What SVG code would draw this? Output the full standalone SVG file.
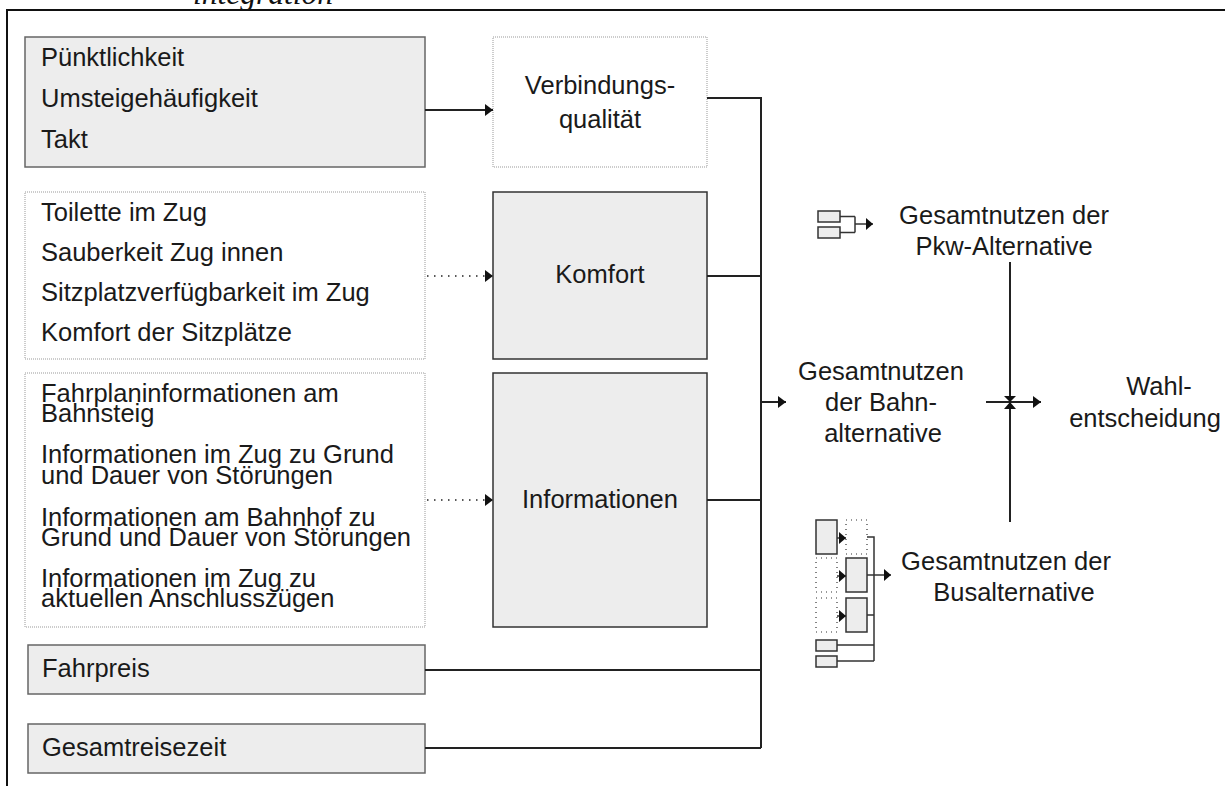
<svg xmlns="http://www.w3.org/2000/svg" width="1225" height="786" viewBox="0 0 1225 786">
<style>
 .t{font-family:"Liberation Sans",Arial,sans-serif;font-size:25.5px;fill:#1a1a1a}
 .c{text-anchor:middle}
 .sh{fill:#ededed;stroke:#666;stroke-width:1.5}
 .dk{fill:#ededed;stroke:#333;stroke-width:1.5}
 .dt{fill:#fff;stroke:#999;stroke-width:1;stroke-dasharray:1 1}
 .ln{fill:none;stroke:#222;stroke-width:2}
 .dl{fill:none;stroke:#222;stroke-width:1.5;stroke-dasharray:1.5 5.5}
 .ic{fill:#ededed;stroke:#333;stroke-width:1.5}
 .icd{fill:#fff;stroke:#333;stroke-width:1.2;stroke-dasharray:1 4}
 .il{fill:none;stroke:#333;stroke-width:1.5}
</style>
<defs>
 <marker id="ah" markerUnits="userSpaceOnUse" viewBox="0 0 10 14" markerWidth="10" markerHeight="14" refX="9" refY="7" orient="auto"><path d="M1,1 L9,7 L1,13 Z" fill="#111"/></marker>
 <marker id="ahs" markerUnits="userSpaceOnUse" viewBox="0 0 8 12" markerWidth="8" markerHeight="12" refX="7" refY="6" orient="auto"><path d="M0,0 L7,6 L0,12 Z" fill="#111"/></marker>
</defs>

<text x="193" y="4" style="font-family:'Liberation Serif','Times New Roman',serif;font-style:italic;font-size:31.5px;fill:#111">integration</text>
<rect x="7" y="10" width="1230" height="800" fill="none" stroke="#111" stroke-width="2"/>

<g id="n-verbindung-kriterien">
 <rect class="sh" x="25" y="37" width="400" height="130"/>
 <text class="t" x="41" y="66">Pünktlichkeit</text>
 <text class="t" x="41" y="107">Umsteigehäufigkeit</text>
 <text class="t" x="41" y="148">Takt</text>
</g>
<g id="n-komfort-kriterien">
 <rect class="dt" x="25" y="192" width="400" height="167"/>
 <text class="t" x="41" y="221">Toilette im Zug</text>
 <text class="t" x="41" y="261">Sauberkeit Zug innen</text>
 <text class="t" x="41" y="301">Sitzplatzverfügbarkeit im Zug</text>
 <text class="t" x="41" y="341">Komfort der Sitzplätze</text>
</g>
<g id="n-info-kriterien">
 <rect class="dt" x="25" y="373" width="400" height="254"/>
 <text class="t" x="41" y="402">Fahrplaninformationen am</text>
 <text class="t" x="41" y="422">Bahnsteig</text>
 <text class="t" x="41" y="463">Informationen im Zug zu Grund</text>
 <text class="t" x="41" y="484">und Dauer von Störungen</text>
 <text class="t" x="41" y="526">Informationen am Bahnhof zu</text>
 <text class="t" x="41" y="546">Grund und Dauer von Störungen</text>
 <text class="t" x="41" y="587">Informationen im Zug zu</text>
 <text class="t" x="41" y="607">aktuellen Anschlusszügen</text>
</g>
<g id="n-fahrpreis">
 <rect class="sh" x="28" y="645" width="397" height="49"/>
 <text class="t" x="42" y="677">Fahrpreis</text>
</g>
<g id="n-reisezeit">
 <rect class="sh" x="28" y="724" width="397" height="49"/>
 <text class="t" x="42" y="756">Gesamtreisezeit</text>
</g>
<g id="n-verbindungsqualitaet">
 <rect class="dt" x="493" y="37" width="214" height="130"/>
 <text class="t c" x="600" y="94">Verbindungs-</text>
 <text class="t c" x="600" y="128">qualität</text>
</g>
<g id="n-komfort">
 <rect class="dk" x="493" y="192" width="214" height="167"/>
 <text class="t c" x="600" y="283">Komfort</text>
</g>
<g id="n-informationen">
 <rect class="dk" x="493" y="373" width="214" height="254"/>
 <text class="t c" x="600" y="508">Informationen</text>
</g>
<g id="n-bahn">
 <text class="t c" x="881" y="380">Gesamtnutzen</text>
 <text class="t c" x="881" y="411">der Bahn-</text>
 <text class="t c" x="883" y="442">alternative</text>
</g>
<g id="n-pkw">
 <rect class="ic" x="818" y="211" width="22" height="11"/>
 <rect class="ic" x="818" y="227" width="22" height="11"/>
 <path class="il" d="M840,216.5 H855 M840,232.5 H855 M855,216.5 V232.5"/>
 <line class="il" x1="855" y1="224" x2="873" y2="224" marker-end="url(#ahs)"/>
 <text class="t c" x="1004" y="224">Gesamtnutzen der</text>
 <text class="t c" x="1004" y="255">Pkw-Alternative</text>
</g>
<g id="n-bus">
 <rect class="ic" x="816" y="520" width="21" height="34"/>
 <rect class="icd" x="846" y="520" width="21" height="34"/>
 <rect class="icd" x="816" y="558" width="21" height="34"/>
 <rect class="ic" x="846" y="558" width="21" height="34"/>
 <rect class="icd" x="816" y="598" width="21" height="34"/>
 <rect class="ic" x="846" y="598" width="21" height="34"/>
 <rect class="ic" x="816" y="640" width="21" height="11"/>
 <rect class="ic" x="816" y="656" width="21" height="11"/>
 <line class="il" x1="837" y1="538" x2="846" y2="538" marker-end="url(#ahs)"/>
 <line class="il" x1="837" y1="576" x2="846" y2="576" marker-end="url(#ahs)"/>
 <line class="il" x1="837" y1="616" x2="846" y2="616" marker-end="url(#ahs)"/>
 <path class="il" d="M867,537 H874 V661 M867,615 H874 M837,645 H874 M837,661 H874"/>
 <line class="il" x1="867" y1="575" x2="891" y2="575" marker-end="url(#ahs)"/>
 <text class="t c" x="1006" y="570">Gesamtnutzen der</text>
 <text class="t c" x="1014" y="601">Busalternative</text>
</g>
<g id="n-wahl">
 <text class="t c" x="1159" y="395">Wahl-</text>
 <text class="t c" x="1145" y="427">entscheidung</text>
</g>

<g id="connectors">
 <line class="ln" x1="425" y1="110" x2="493" y2="110" marker-end="url(#ah)"/>
 <line class="dl" x1="427" y1="276" x2="493" y2="276" marker-end="url(#ah)"/>
 <line class="dl" x1="427" y1="500" x2="493" y2="500" marker-end="url(#ah)"/>
 <path class="ln" d="M707,98 H761 V748 M707,276 H761 M707,500 H761 M425,670 H761 M425,748 H761"/>
 <line class="ln" x1="761" y1="402" x2="786" y2="402" marker-end="url(#ah)"/>
 <line class="ln" x1="1010" y1="262" x2="1010" y2="522"/>
 <line class="ln" x1="986" y1="402" x2="1041" y2="402" marker-end="url(#ah)"/>
 <path d="M1004,396 H1016 L1010,402 Z M1004,409 H1016 L1010,402 Z" fill="#111"/>
</g>
</svg>
